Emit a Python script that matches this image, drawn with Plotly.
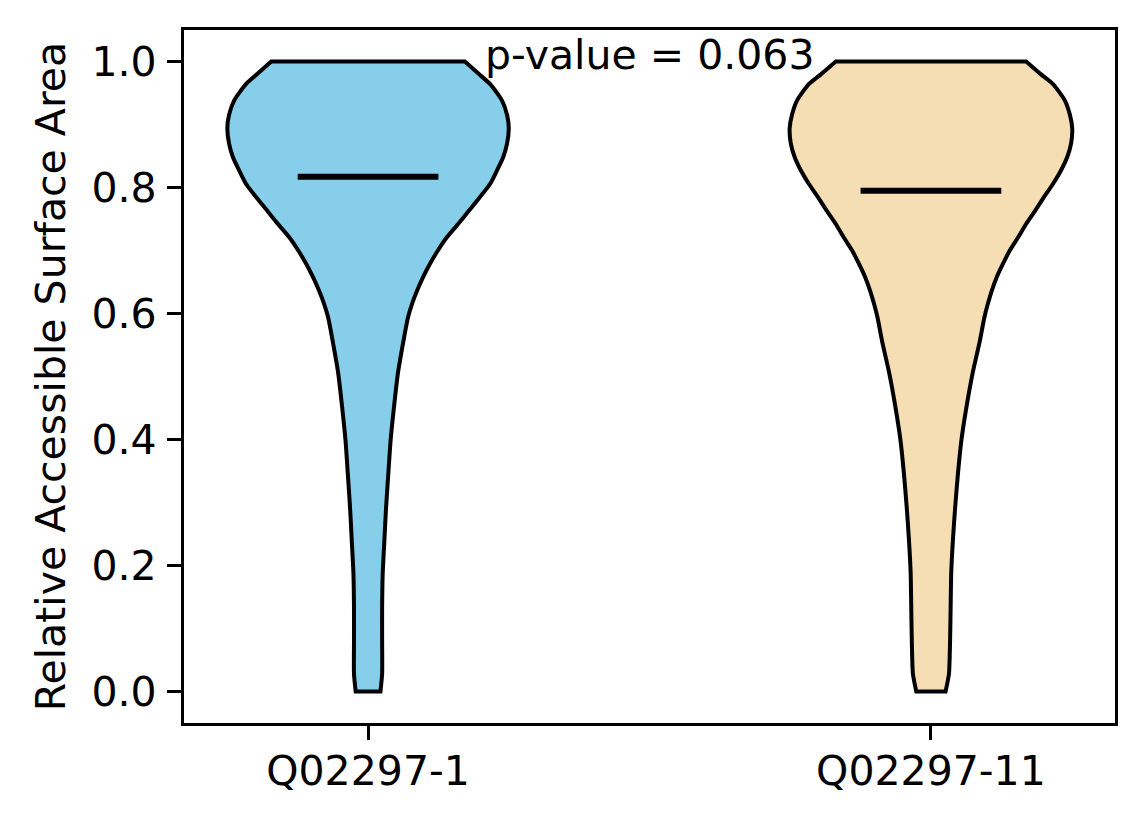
import plotly.graph_objects as go

# violin outlines: value levels and half-widths (x units)
categories = ["Q02297-1", "Q02297-11"]
positions = [1, 2]
levels = [0.0, 0.028, 0.081, 0.134, 0.187, 0.24, 0.292, 0.346, 0.398, 0.451,
          0.505, 0.557, 0.594, 0.615, 0.636, 0.658, 0.679, 0.70, 0.721, 0.742,
          0.763, 0.785, 0.806, 0.827, 0.848, 0.87, 0.894, 0.915, 0.938, 0.964,
          0.98, 1.0]
halfwidth_iso1 = [0.022, 0.025, 0.025, 0.025, 0.026, 0.029, 0.032, 0.036, 0.040, 0.046,
                  0.053, 0.063, 0.071, 0.078, 0.087, 0.098, 0.110, 0.124, 0.140, 0.160,
                  0.179, 0.199, 0.217, 0.229, 0.240, 0.247, 0.250, 0.247, 0.238, 0.217,
                  0.197, 0.172]
halfwidth_iso11 = [0.026, 0.032, 0.034, 0.035, 0.036, 0.039, 0.043, 0.048, 0.054, 0.063,
                   0.074, 0.087, 0.095, 0.101, 0.108, 0.117, 0.128, 0.140, 0.155, 0.169,
                   0.185, 0.201, 0.217, 0.231, 0.242, 0.249, 0.251, 0.247, 0.238, 0.217,
                   0.195, 0.169]
means = [0.817, 0.795]
colors = ["#87CEEB", "#F5DEB3"]
p_value = 0.063

FONT = "DejaVu Sans"
fig = go.Figure()

for pos, hw, col in zip(positions, [halfwidth_iso1, halfwidth_iso11], colors):
    right = [(pos + w, v) for w, v in zip(hw, levels)]
    left = [(pos - w, v) for w, v in zip(hw[::-1], levels[::-1])]
    # repeat the end points so the spline keeps the flat top/bottom corners sharp
    pts = [right[0]] + right + [right[-1], left[0]] + left + [left[-1], right[0], right[0]]
    fig.add_trace(go.Scatter(x=[p[0] for p in pts], y=[p[1] for p in pts], mode="lines",
                             fill="toself", fillcolor=col,
                             line=dict(color="black", width=4, shape="spline", smoothing=0.6),
                             showlegend=False, hoverinfo="skip"))

for pos, m in zip(positions, means):
    fig.add_trace(go.Scatter(x=[pos - 0.125, pos + 0.125], y=[m, m], mode="lines",
                             line=dict(color="black", width=6),
                             showlegend=False, hoverinfo="skip"))

fig.add_annotation(x=1.5, y=1.01, xref="x", yref="y", text=f"p-value = {p_value}",
                   showarrow=False, yanchor="middle",
                   font=dict(family=FONT, size=41, color="black"))

axis_style = dict(showline=True, linecolor="black", linewidth=3.3, mirror=True,
                  ticks="outside", ticklen=14, tickwidth=3.3, tickcolor="black",
                  showgrid=False, zeroline=False,
                  tickfont=dict(family=FONT, size=41, color="black"))

fig.update_xaxes(range=[0.673, 2.327], tickvals=positions, ticktext=categories,
                 ticklabelstandoff=-4, **axis_style)
fig.update_yaxes(range=[-0.05, 1.05], tickvals=[0, 0.2, 0.4, 0.6, 0.8, 1.0],
                 tickformat=".1f", ticklabelstandoff=2,
                 title=dict(text="Relative Accessible Surface Area", standoff=14,
                            font=dict(family=FONT, size=41, color="black")),
                 **axis_style)

# page body adds an 8px offset, so margins are shifted to compensate
fig.update_layout(width=1144, height=824, plot_bgcolor="white", paper_bgcolor="white",
                  margin=dict(l=176, r=37, t=22, b=109, autoexpand=False),
                  font=dict(family=FONT, color="black"))

fig.write_html("out.html")
